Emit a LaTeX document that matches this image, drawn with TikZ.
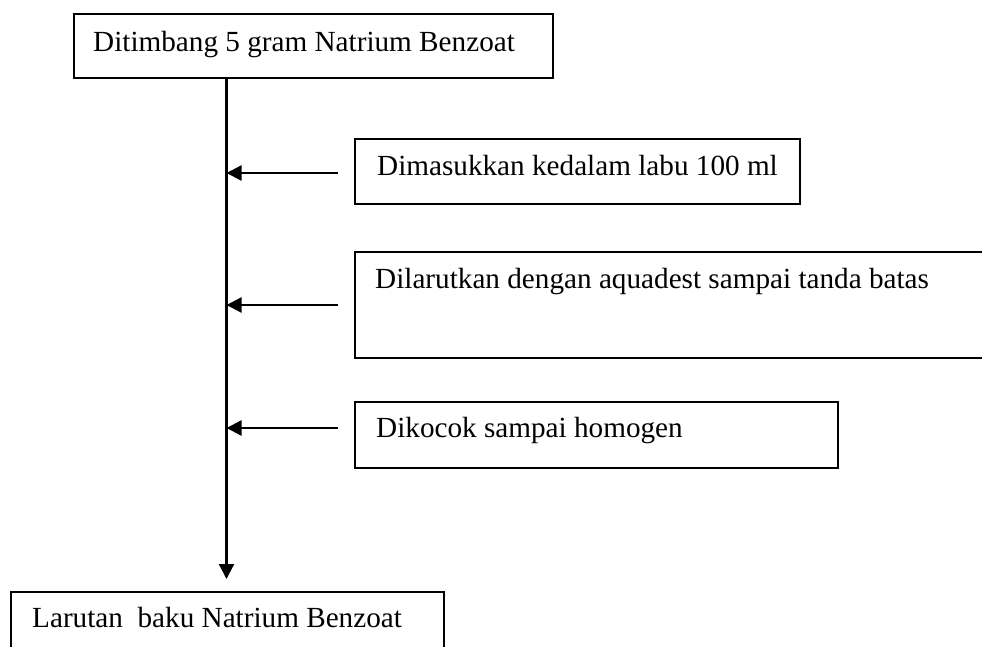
\documentclass[tikz,border=0pt]{standalone}
\usepackage{fontspec}
\setmainfont{Liberation Serif}
\usetikzlibrary{arrows.meta}
\begin{document}
\begin{tikzpicture}[x=1pt,y=-1pt,
  boxnode/.style n args={2}{draw, line width=1.7pt, anchor=north west, inner sep=0pt, minimum width=#1, minimum height=#2},
  label/.style={anchor=base west, inner sep=0pt, font=\fontsize{29.2}{35}\selectfont},
  flow/.style={line width=2.2pt, -{Triangle[length=15pt,width=15pt]}}]
\useasboundingbox (0,0) rectangle (982,647);
\clip (0,0) rectangle (982,647);
% boxes
\node[boxnode={479pt}{64pt}] (top) at (73,13) {};
\node[boxnode={445pt}{65pt}] (b1) at (354,138) {};
\node[boxnode={700pt}{106pt}] (b2) at (354,251) {};
\node[boxnode={483pt}{66pt}] (b3) at (354,401) {};
\node[boxnode={433pt}{80pt}] (bot) at (10,591) {};
% texts
\node[label] (t0) at (93,52) {Ditimbang 5 gram Natrium Benzoat};
\node[label] (t1) at (377,176) {Dimasukkan kedalam labu 100 ml};
\node[label] (t2) at (375,288) {Dilarutkan dengan aquadest sampai tanda batas};
\node[label] (t3) at (376,437) {Dikocok sampai homogen};
\node[label] (t4) at (32,627) {Larutan\ \ baku Natrium Benzoat};
% spine
\coordinate (spX) at (226.5,0);
\draw[flow, shorten >=12pt] (top.south -| spX) -- (bot.north -| spX);
% side arrows
\coordinate (a1) at (338,173);
\coordinate (a2) at (338,305);
\coordinate (a3) at (338,428);
\draw[flow] (a1) -- (a1 -| spX);
\draw[flow] (a2) -- (a2 -| spX);
\draw[flow] (a3) -- (a3 -| spX);
\end{tikzpicture}
\end{document}
